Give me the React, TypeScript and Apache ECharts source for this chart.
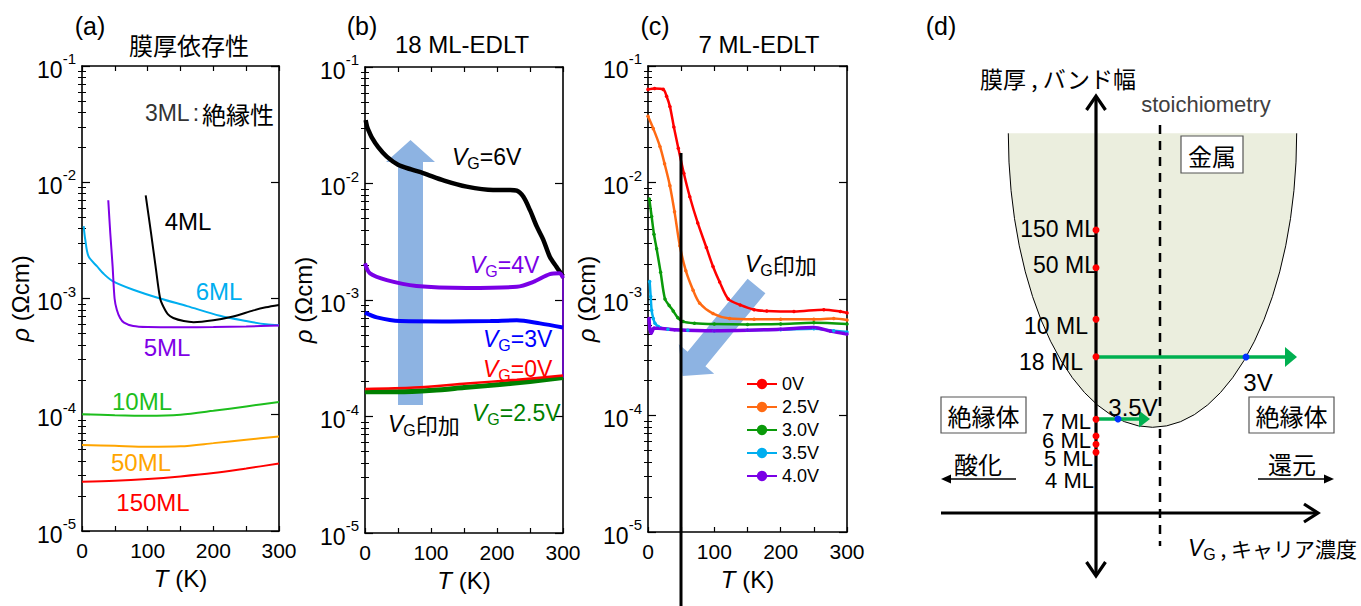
import React, { useEffect, useRef } from 'react';
import * as echarts from 'echarts';

const FONT = '"Liberation Sans", Arial, "Noto Sans CJK JP", sans-serif';
const JP = '"Noto Sans CJK JP", "Liberation Sans", sans-serif';

// ---------- Panel (a): thickness dependence  [T (K), rho (Ωcm)] ----------
const A_6ML: [number, number][] = [[2.5, 4.2e-3], [5, 3.2e-3], [10, 2.3e-3], [23, 1.89e-3], [33, 1.63e-3], [46, 1.42e-3], [78, 1.19e-3], [119, 1.0e-3], [160, 8.6e-4], [210, 7.1e-4], [250, 6.4e-4], [280, 6.0e-4], [300, 5.9e-4]];
const A_5ML: [number, number][] = [[40, 7.0e-3], [43, 3.7e-3], [46.6, 1.9e-3], [49.6, 1.0e-3], [53, 8.0e-4], [58, 6.8e-4], [64, 6.2e-4], [78, 5.8e-4], [100, 5.68e-4], [150, 5.65e-4], [200, 5.68e-4], [250, 5.75e-4], [300, 5.85e-4]];
const A_4ML: [number, number][] = [[97, 7.7e-3], [105, 3.7e-3], [112, 1.9e-3], [119, 1.0e-3], [124, 8.5e-4], [131, 7.3e-4], [139, 6.8e-4], [155, 6.4e-4], [170, 6.26e-4], [200, 6.5e-4], [230, 7.0e-4], [261, 7.9e-4], [280, 8.4e-4], [300, 8.8e-4]];
const A_10ML: [number, number][] = [[0, 1.01e-4], [50, 9.9e-5], [100, 9.8e-5], [150, 1.0e-4], [200, 1.08e-4], [250, 1.18e-4], [300, 1.29e-4]];
const A_50ML: [number, number][] = [[0, 5.5e-5], [50, 5.4e-5], [100, 5.3e-5], [150, 5.35e-5], [200, 5.7e-5], [250, 6.1e-5], [300, 6.5e-5]];
const A_150ML: [number, number][] = [[0, 2.65e-5], [50, 2.7e-5], [100, 2.8e-5], [150, 2.95e-5], [200, 3.15e-5], [250, 3.45e-5], [300, 3.8e-5]];

// ---------- Panel (b): 18 ML EDLT ----------
const B_6V: [number, number][] = [[1, 3.5e-2], [3, 3.1e-2], [6, 2.8e-2], [10, 2.5e-2], [20, 2.05e-2], [33, 1.7e-2], [50, 1.45e-2], [70, 1.32e-2], [88, 1.23e-2], [120, 1.06e-2], [154, 9.4e-3], [194, 8.8e-3], [220, 8.8e-3], [230, 8.7e-3], [240, 7.7e-3], [250, 5.9e-3], [260, 4.3e-3], [270, 3.3e-3], [280, 2.35e-3], [290, 1.93e-3], [300, 1.6e-3]];
const B_4V: [number, number][] = [[0, 2.06e-3], [7.6, 1.69e-3], [33, 1.48e-3], [78, 1.32e-3], [154, 1.27e-3], [230, 1.3e-3], [255, 1.43e-3], [280, 1.67e-3], [295, 1.7e-3], [300, 1.54e-3]];
const B_4V_END: [number, number][] = [[300, 1.54e-3], [300, 2.15e-4]];
const B_3V: [number, number][] = [[0, 7.8e-4], [18, 7.1e-4], [53, 6.6e-4], [129, 6.55e-4], [190, 6.6e-4], [230, 6.7e-4], [265, 6.3e-4], [300, 5.8e-4]];
const B_0V: [number, number][] = [[0, 1.72e-4], [75, 1.77e-4], [154, 1.92e-4], [230, 2.07e-4], [300, 2.25e-4]];
const B_25V: [number, number][] = [[0, 1.63e-4], [50, 1.63e-4], [103, 1.68e-4], [150, 1.77e-4], [204, 1.88e-4], [250, 2.0e-4], [300, 2.16e-4]];

// ---------- Panel (c): 7 ML EDLT ----------
const C_0V: [number, number][] = [[0, 6.3e-2], [10, 6.4e-2], [23, 6.3e-2], [28, 5.5e-2], [33, 4.5e-2], [39, 3.0e-2], [45.7, 1.97e-2], [54, 1.2e-2], [63, 7.55e-3], [75, 4.5e-3], [88, 2.77e-3], [98, 1.9e-3], [108, 1.4e-3], [121, 1.0e-3], [139, 8.9e-4], [160, 8.1e-4], [179, 7.9e-4], [220, 7.8e-4], [265, 8.1e-4], [290, 7.8e-4], [300, 7.6e-4]];
const C_25V: [number, number][] = [[0, 3.7e-2], [8, 2.9e-2], [18, 2.04e-2], [25, 1.45e-2], [33, 9.4e-3], [40, 5.6e-3], [48, 2.86e-3], [57, 1.75e-3], [68, 1.19e-3], [78, 9.2e-4], [98, 7.5e-4], [123, 6.8e-4], [160, 6.7e-4], [200, 6.7e-4], [250, 6.7e-4], [280, 6.8e-4], [300, 6.6e-4]];
const C_30V: [number, number][] = [[2, 7.2e-3], [5.5, 5.1e-3], [9, 3.6e-3], [13, 2.7e-3], [19, 1.7e-3], [25.6, 1.0e-3], [32, 8.8e-4], [38, 7.9e-4], [45, 6.9e-4], [53, 6.4e-4], [70, 6.2e-4], [100, 6.1e-4], [150, 6.05e-4], [200, 6.1e-4], [250, 6.25e-4], [300, 6.1e-4]];
const C_35V: [number, number][] = [[2.5, 1.41e-3], [4, 1.05e-3], [5.5, 8.0e-4], [8, 6.8e-4], [10.5, 6.2e-4], [15.6, 5.8e-4], [30, 5.5e-4], [60, 5.4e-4], [100, 5.35e-4], [150, 5.4e-4], [200, 5.45e-4], [250, 5.55e-4], [280, 5.35e-4], [300, 5.2e-4]];
const C_40V: [number, number][] = [[1.5, 6.8e-4], [3, 5.5e-4], [5, 5.1e-4], [9, 5.6e-4], [15, 5.6e-4], [40, 5.45e-4], [100, 5.35e-4], [150, 5.4e-4], [200, 5.5e-4], [250, 5.7e-4], [275, 5.3e-4], [300, 5.0e-4]];
const C_LEGEND = ['0V', '2.5V', '3.0V', '3.5V', '4.0V'];

// ---------- axes ----------
const T_MIN = 0, T_MAX = 300, T_STEP = 50, T_LABEL_STEP = 100;
const RHO_MIN = 1e-5, RHO_MAX = 1e-1;
const MANTISSAS = [2, 3, 4, 5, 6, 7, 8, 9];
const DECADES = [1e-5, 1e-4, 1e-3, 1e-2];
const MINOR_TICKS: number[] = [];
DECADES.forEach((d) => MANTISSAS.forEach((m) => MINOR_TICKS.push(+(m * d).toPrecision(3))));

const GRIDS = [
  { left: 82, top: 66, width: 197, height: 465 },
  { left: 365, top: 67, width: 198, height: 466 },
  { left: 648, top: 66, width: 199, height: 466 },
];

const axisLine = { show: true, onZero: false, lineStyle: { color: '#000', width: 1.6 } };

function xAxes(i: number) {
  const base: any = {
    type: 'value', gridIndex: i, min: T_MIN, max: T_MAX, interval: T_STEP,
    axisLine, splitLine: { show: false },
    axisTick: { show: true, inside: true, length: 5, lineStyle: { color: '#000', width: 1.2 } },
  };
  return [
    {
      ...base, position: 'bottom',
      axisLabel: {
        show: true, showMinLabel: true, showMaxLabel: true, margin: 9,
        formatter: (v: number) => (v % T_LABEL_STEP === 0 ? String(v) : ''),
        fontSize: 21, color: '#000', fontFamily: FONT,
      },
      name: '{i|T} (K)', nameLocation: 'middle', nameGap: 35,
      nameTextStyle: { fontSize: 24, color: '#000', fontFamily: FONT, rich: { i: { fontStyle: 'italic', fontSize: 24, fontFamily: FONT, color: '#000' } } },
    },
    { ...base, position: 'top', axisLabel: { show: false } },
  ];
}

function yAxes(i: number) {
  const base: any = {
    type: 'log', logBase: 10, gridIndex: i, min: RHO_MIN, max: RHO_MAX,
    splitLine: { show: false }, axisLabel: { show: false },
  };
  const major = { show: true, inside: true, length: 8, lineStyle: { color: '#000', width: 1.2 } };
  const minor = { show: true, inside: true, length: 4, customValues: MINOR_TICKS, lineStyle: { color: '#000', width: 1 } };
  return [
    {
      ...base, position: 'left', axisLine, axisTick: major,
      axisLabel: {
        show: true, margin: 6,
        formatter: (v: number) => `{b|10}{s|${Math.round(Math.log10(v))}}`,
        rich: {
          b: { fontSize: 23, fontFamily: FONT, color: '#000', lineHeight: 30, verticalAlign: 'bottom' },
          s: { fontSize: 15, fontFamily: FONT, color: '#000', lineHeight: 15, verticalAlign: 'top' },
        },
      },
      name: '{i|ρ} (Ωcm)', nameLocation: 'middle', nameGap: 50, nameRotate: 90,
      nameTextStyle: { fontSize: 24, color: '#000', fontFamily: FONT, rich: { i: { fontStyle: 'italic', fontSize: 24, fontFamily: FONT, color: '#000' } } },
    },
    { ...base, position: 'right', axisLine, axisTick: major },
    { ...base, position: 'left', axisLine: { show: false }, axisTick: minor },
    { ...base, position: 'right', axisLine: { show: false }, axisTick: minor },
  ];
}

function line(name: string, data: [number, number][], grid: number, color: string, width: number, extra: any = {}) {
  return {
    type: 'line', name, data, xAxisIndex: grid * 2, yAxisIndex: grid * 4,
    showSymbol: false, symbol: 'none', smooth: 0.3,
    lineStyle: { color, width }, itemStyle: { color }, z: 3, silent: true,
    ...extra,
  };
}

function cLine(name: string, data: [number, number][], color: string, width: number) {
  return line(name, data, 2, color, width, { symbol: 'circle', showSymbol: true, symbolSize: 3.5 });
}

// ---------- graphic helpers (annotations) ----------
const txt = (x: number, y: number, text: string, o: any = {}) => ({
  type: 'text', x, y, z: 20, silent: true,
  style: {
    text, fontSize: o.fs ?? 22, fontFamily: o.ff ?? FONT, fill: o.c ?? '#000',
    align: o.a ?? 'center', verticalAlign: 'middle', fontStyle: o.it ? 'italic' : 'normal',
    rich: o.rich,
  },
});
const ln = (x1: number, y1: number, x2: number, y2: number, stroke: string, lineWidth: number, dash?: number[]) => ({
  type: 'line', z: 15, silent: true, shape: { x1, y1, x2, y2 }, style: { stroke, lineWidth, lineDash: dash },
});
const pline = (points: number[][], stroke: string, lineWidth: number) => ({
  type: 'polyline', z: 15, silent: true, shape: { points }, style: { stroke, lineWidth, fill: null },
});
const poly = (points: number[][], fill: string, z = 1) => ({
  type: 'polygon', z, silent: true, shape: { points }, style: { fill },
});
const dot = (cx: number, cy: number, fill: string, r = 3.5) => ({
  type: 'circle', z: 18, silent: true, shape: { cx, cy, r }, style: { fill },
});
const box = (x: number, y: number, w: number, h: number) => ({
  type: 'rect', z: 12, silent: true, shape: { x, y, width: w, height: h }, style: { fill: '#fff', stroke: '#555', lineWidth: 1.2 },
});

const vgRich = (color: string, fs = 23, jfs = fs) => ({
  i: { fontStyle: 'italic', fontSize: fs, fontFamily: FONT, fill: color, lineHeight: 28 },
  g: { fontSize: 16, fontFamily: FONT, fill: color, lineHeight: 15, verticalAlign: 'bottom' },
  n: { fontSize: fs, fontFamily: FONT, fill: color, lineHeight: 28 },
  j: { fontSize: jfs, fontFamily: JP, fill: color, lineHeight: 28 },
});

const LIGHT_BLUE = '#8DB3E2';
const GREEN_ARROW = '#00B050';
const RED_DOT = '#FF0000';
const BLUE_DOT = '#0033FF';

function buildGraphics() {
  const g: any[] = [];
  // panel titles
  g.push(txt(90, 26, '(a)', { fs: 25 }));
  g.push(txt(189, 44, '膜厚依存性', { fs: 24, ff: JP }));
  g.push(txt(362, 26, '(b)', { fs: 25 }));
  g.push(txt(462, 44, '18 ML-EDLT', { fs: 24 }));
  g.push(txt(655, 26, '(c)', { fs: 25 }));
  g.push(txt(759, 44, '7 ML-EDLT', { fs: 24 }));
  g.push(txt(941, 26, '(d)', { fs: 25 }));

  // panel (a) labels
  g.push(txt(274, 113, '{t|3ML}{c|:}{j|絶縁性}', {
    a: 'right', rich: {
      t: { fontSize: 23, fontFamily: FONT, fill: '#333' },
      c: { fontSize: 23, fontFamily: FONT, fill: '#333', padding: [0, 3, 0, 3] },
      j: { fontSize: 24, fontFamily: JP, fill: '#000' },
    },
  }));
  g.push(txt(188, 221, '4ML', { fs: 24 }));
  g.push(txt(219, 291, '6ML', { fs: 24, c: '#00AEEF' }));
  g.push(txt(167, 347, '5ML', { fs: 24, c: '#7F00E6' }));
  g.push(txt(142, 401, '10ML', { fs: 24, c: '#1DBE1D' }));
  g.push(txt(141, 462, '50ML', { fs: 24, c: '#FFA500' }));
  g.push(txt(153, 502, '150ML', { fs: 24, c: '#FF0000' }));

  // panel (b) arrow + labels
  g.push(poly([[398, 405], [398, 162], [386, 162], [410.5, 140], [435, 162], [423, 162], [423, 405]], LIGHT_BLUE));
  g.push(txt(452, 157, '{i|V}{g|G}{n|=6V}', { a: 'left', rich: vgRich('#000') }));
  g.push(txt(470, 265, '{i|V}{g|G}{n|=4V}', { a: 'left', rich: vgRich('#7A00E6') }));
  g.push(txt(483, 339, '{i|V}{g|G}{n|=3V}', { a: 'left', rich: vgRich('#0000FF') }));
  g.push(txt(483, 369, '{i|V}{g|G}{n|=0V}', { a: 'left', rich: vgRich('#FF0000') }));
  g.push(txt(472, 413, '{i|V}{g|G}{n|=2.5V}', { a: 'left', rich: vgRich('#008000') }));
  g.push(txt(388, 424, '{i|V}{g|G}{j|印加}', { a: 'left', rich: vgRich('#000', 23, 22) }));

  // panel (c) arrow, vertical marker, label
  g.push(poly([[765.4, 293.3], [705.4, 366.3], [714.2, 373.7], [682.5, 376], [678.8, 344.3], [687.6, 351.7], [747.6, 278.7]], LIGHT_BLUE));
  g.push(ln(681, 153, 681, 606, '#000', 3));
  g.push(txt(745, 264, '{i|V}{g|G}{j|印加}', { a: 'left', rich: vgRich('#000', 23, 22) }));

  // panel (d)
  g.push({
    type: 'halfEllipse', z: 2, silent: true, x: 0, y: 0,
    style: { fill: '#EBEEDE', stroke: '#000', lineWidth: 1 },
  });
  g.push(txt(1058, 78, '膜厚 , バンド幅', { fs: 23, ff: JP }));
  g.push(txt(1206, 104, 'stoichiometry', { fs: 22, c: '#404040' }));
  g.push(ln(1160, 125, 1160, 546, '#000', 2.5, [9, 7]));
  g.push(ln(1096, 97, 1096, 575, '#000', 3.2));
  g.push(pline([[1086.5, 110], [1096, 96], [1105.5, 110]], '#000', 3.2));
  g.push(pline([[1086.5, 562], [1096, 576], [1105.5, 562]], '#000', 3.2));
  g.push(ln(941, 513, 1317, 513, '#000', 3.2));
  g.push(pline([[1304, 504], [1318, 513], [1304, 522]], '#000', 3.2));
  g.push(box(1181, 136, 62, 37));
  g.push(txt(1212, 155, '金属', { fs: 24, ff: JP }));
  g.push(box(941, 397, 85, 36));
  g.push(txt(983.5, 415, '絶縁体', { fs: 24, ff: JP }));
  g.push(box(1249, 397, 85, 36));
  g.push(txt(1291.5, 415, '絶縁体', { fs: 24, ff: JP }));
  g.push(txt(978, 463, '酸化', { fs: 24, ff: JP }));
  g.push(ln(1016, 479, 948, 479, '#000', 1.5));
  g.push(poly([[941, 479], [951, 474.5], [951, 483.5]], '#000', 15));
  g.push(txt(1292, 463, '還元', { fs: 24, ff: JP }));
  g.push(ln(1258, 479, 1327, 479, '#000', 1.5));
  g.push(poly([[1334, 479], [1324, 474.5], [1324, 483.5]], '#000', 15));
  // thickness labels
  g.push(txt(1097, 229, '150 ML', { fs: 23, a: 'right' }));
  g.push(txt(1097, 265, '50 ML', { fs: 23, a: 'right' }));
  g.push(txt(1088, 326, '10 ML', { fs: 23, a: 'right' }));
  g.push(txt(1083, 362, '18 ML', { fs: 23, a: 'right' }));
  g.push(txt(1091, 421, '7 ML', { fs: 22, a: 'right' }));
  g.push(txt(1091, 440, '6 ML', { fs: 22, a: 'right' }));
  g.push(txt(1093, 458, '5 ML', { fs: 22, a: 'right' }));
  g.push(txt(1094, 480, '4 ML', { fs: 22, a: 'right' }));
  // gate arrows
  g.push(ln(1096, 357, 1286, 357, GREEN_ARROW, 3.5));
  g.push(poly([[1297, 357], [1285, 347], [1285, 367]], GREEN_ARROW, 16));
  g.push(ln(1096, 419, 1140, 419, GREEN_ARROW, 3.5));
  g.push(poly([[1150, 419], [1139, 410.5], [1139, 427.5]], GREEN_ARROW, 16));
  g.push(txt(1258, 382, '3V', { fs: 24 }));
  g.push(txt(1133, 407, '3.5V', { fs: 24 }));
  [230, 267.7, 319.3, 356.7, 419.3, 436, 444.3, 452.3].forEach((y) => g.push(dot(1096, y, RED_DOT)));
  g.push(dot(1246, 357, BLUE_DOT));
  g.push(dot(1118, 419, BLUE_DOT));
  g.push(txt(1357, 548, '{i|V}{g|G}{j| , キャリア濃度}', { a: 'right', rich: vgRich('#000', 23, 21) }));
  return g;
}

export default function App() {
  const ref = useRef<HTMLDivElement>(null);
  useEffect(() => {
    if (!ref.current) return;
    try {
      echarts.graphic.registerShape(
        'halfEllipse',
        echarts.graphic.extendPath('M 1008.3 133.3 A 144.2 294 0 0 0 1296.7 133.3', {}) as any
      );
    } catch (e) { /* already registered */ }
    const chart = echarts.init(ref.current, undefined, { renderer: 'svg' });
    const option: any = {
      animation: false,
      backgroundColor: '#fff',
      grid: GRIDS.map((g) => ({ ...g, containLabel: false })),
      xAxis: [...xAxes(0), ...xAxes(1), ...xAxes(2)],
      yAxis: [...yAxes(0), ...yAxes(1), ...yAxes(2)],
      legend: {
        data: C_LEGEND, left: 741, top: 370, orient: 'vertical',
        itemWidth: 30, itemHeight: 13, itemGap: 5, selectedMode: false,
        textStyle: { fontSize: 18, fontFamily: FONT, color: '#000' },
      },
      series: [
        line('6ML', A_6ML, 0, '#00AEEF', 2),
        line('5ML', A_5ML, 0, '#7F00E6', 2),
        line('4ML', A_4ML, 0, '#000000', 2),
        line('10ML', A_10ML, 0, '#1DBE1D', 2),
        line('50ML', A_50ML, 0, '#FFA500', 2),
        line('150ML', A_150ML, 0, '#FF0000', 2),

        line('VG=6V', B_6V, 1, '#000000', 4.5),
        line('VG=4V', B_4V, 1, '#7A00E6', 4),
        line('VG=4V end', B_4V_END, 1, '#7A00E6', 1.5, { smooth: false }),
        line('VG=3V', B_3V, 1, '#0000FF', 4),
        line('VG=2.5V', B_25V, 1, '#008000', 5),
        line('VG=0V', B_0V, 1, '#FF0000', 2.5),

        cLine('0V', C_0V, '#FF0000', 2.5),
        cLine('2.5V', C_25V, '#FF6A13', 2.5),
        cLine('3.0V', C_30V, '#0A9A0A', 2.5),
        cLine('3.5V', C_35V, '#00AEEF', 2.5),
        cLine('4.0V', C_40V, '#7A00E6', 3.5),
      ],
      graphic: { elements: buildGraphics() },
    };
    chart.setOption(option);
    return () => chart.dispose();
  }, []);
  return <div ref={ref} style={{ position: 'absolute', left: 0, top: 0, width: 1361, height: 606 }} />;
}
